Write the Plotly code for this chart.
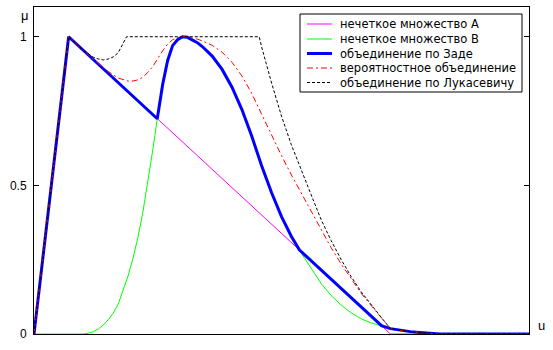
import plotly.graph_objects as go

# ---- data ----
u_a = [0, 7, 72, 100]
mu_a = [0, 1, 0, 0]

u_b = [0, 10, 11, 12, 13, 14, 15, 16, 17, 18, 19, 20, 21, 22, 23, 24, 25, 26, 27, 28, 29, 30,
       31, 32, 33, 34, 36, 38, 40, 42, 44, 46, 48, 50, 52, 54, 56, 58, 60, 62, 64, 66, 68, 70,
       72, 74, 76, 78, 80, 82, 100]
mu_b = [0, 0, 0.003, 0.008, 0.017, 0.03, 0.048, 0.07, 0.10, 0.145, 0.195, 0.255, 0.325, 0.41,
        0.51, 0.62, 0.735, 0.84, 0.92, 0.97, 0.99, 1.0, 0.998, 0.99, 0.98, 0.967, 0.935, 0.89,
        0.83, 0.755, 0.665, 0.565, 0.475, 0.395, 0.328, 0.272, 0.222, 0.17, 0.13, 0.098, 0.072,
        0.052, 0.038, 0.028, 0.018, 0.012, 0.008, 0.005, 0.002, 0, 0]

u_zadeh = [0, 7, 24.9, 25, 26, 27, 28, 29, 30, 31, 32, 33, 34, 36, 38, 40, 42, 44, 46, 48, 50,
           52, 53.6, 70.2, 72, 74, 76, 78, 80, 82, 100]
mu_zadeh = [0, 1, 0.724, 0.735, 0.84, 0.92, 0.97, 0.99, 1.0, 0.998, 0.99, 0.98, 0.967, 0.935,
            0.89, 0.83, 0.755, 0.665, 0.565, 0.475, 0.395, 0.328, 0.283, 0.028, 0.018, 0.012,
            0.008, 0.005, 0.002, 0, 0]

u_prob = [0, 7, 10, 11, 12, 13, 14, 15, 16, 17, 18, 19, 20, 21, 22, 23, 24, 25, 26, 27, 28, 29,
          30, 31, 32, 33, 34, 36, 38, 40, 42, 44, 46, 48, 50, 52, 54, 56, 58, 60, 62, 64, 66, 68,
          70, 72, 74, 76, 78, 80, 82, 100]
mu_prob = [0, 1, 0.954, 0.938, 0.924, 0.910, 0.895, 0.883, 0.872, 0.861, 0.856, 0.851, 0.851,
           0.855, 0.864, 0.880, 0.900, 0.927, 0.953, 0.975, 0.990, 0.997, 1.0, 0.999, 0.996,
           0.992, 0.986, 0.971, 0.948, 0.914, 0.868, 0.809, 0.739, 0.669, 0.600, 0.535, 0.474,
           0.413, 0.348, 0.291, 0.237, 0.186, 0.139, 0.098, 0.058, 0.018, 0.012, 0.008, 0.005,
           0.002, 0, 0]

u_luk = [0, 7, 10, 11, 12, 13, 14, 15, 16, 17, 18, 18.7, 45.5, 46, 48, 50, 52, 54, 56, 58, 60,
         62, 64, 66, 68, 70, 72, 74, 76, 78, 80, 82, 100]
mu_luk = [0, 1, 0.954, 0.941, 0.931, 0.925, 0.922, 0.925, 0.932, 0.946, 0.976, 1.0, 1.0, 0.965,
          0.844, 0.733, 0.636, 0.549, 0.468, 0.385, 0.315, 0.252, 0.195, 0.144, 0.1, 0.059,
          0.018, 0.012, 0.008, 0.005, 0.002, 0, 0]

y_tickvals = [0, 0.5, 1]
y_ticktext = ["0", "0.5", "1"]

labels = ["нечеткое множество А", "нечеткое множество В", "объединение по Заде",
          "вероятностное объединение", "объединение по Лукасевичу"]

# ---- styles ----
FONT = "Liberation Sans, Arial, sans-serif"
LEG_FONT = "DejaVu Sans, Verdana, sans-serif"
styles = [
    dict(color="#ff00ff", width=1, dash="solid"),
    dict(color="#00ff00", width=1, dash="solid"),
    dict(color="#0000ff", width=3, dash="solid"),
    dict(color="#ff0000", width=1, dash="6px,3px,2px,3px"),
    dict(color="#000000", width=1, dash="3px,2px"),
]
series = [(u_a, mu_a), (u_b, mu_b), (u_zadeh, mu_zadeh), (u_prob, mu_prob), (u_luk, mu_luk)]

W, H = 553, 350
L, R, T, B = 34, 24, 7, 16
pw, ph = W - L - R, H - T - B


def pxx(x):
    return (x - L) / pw


def pxy(y):
    return (H - B - y) / ph


fig = go.Figure()
for (xs, ys), st, name in zip(series, styles, labels):
    fig.add_trace(go.Scatter(x=xs, y=ys, mode="lines", name=name, line=st,
                             showlegend=False, hoverinfo="skip"))

# legend box drawn by hand (to match compact MATLAB legend)
shapes = [dict(type="rect", xref="paper", yref="paper",
               x0=pxx(300), x1=pxx(522), y0=pxy(92), y1=pxy(14),
               line=dict(color="black", width=1), fillcolor="white", layer="above")]
annotations = []
row_y = [24, 39, 53.5, 68, 82.5]
for ry, st, name in zip(row_y, styles, labels):
    shapes.append(dict(type="line", xref="paper", yref="paper",
                       x0=pxx(307), x1=pxx(332), y0=pxy(ry), y1=pxy(ry),
                       line=dict(color=st["color"], width=st["width"], dash=st["dash"]),
                       layer="above"))
    annotations.append(dict(text=name, xref="paper", yref="paper", x=pxx(338), y=pxy(ry),
                            xanchor="left", yanchor="middle", showarrow=False,
                            font=dict(family=LEG_FONT, size=11.5, color="black")))

annotations.append(dict(text="μ", xref="paper", yref="paper", x=pxx(24.5), y=pxy(15),
                        xanchor="center", yanchor="middle", showarrow=False,
                        font=dict(family=FONT, size=13, color="black")))
annotations.append(dict(text="u", xref="paper", yref="paper", x=pxx(541), y=pxy(325),
                        xanchor="center", yanchor="middle", showarrow=False,
                        font=dict(family=FONT, size=13, color="black")))

fig.update_layout(
    width=W, height=H, autosize=False,
    margin=dict(l=L, r=R, t=T, b=B, pad=0),
    paper_bgcolor="white", plot_bgcolor="white",
    font=dict(family=FONT, size=12, color="black"),
    shapes=shapes, annotations=annotations,
    xaxis=dict(range=[0, 100], showgrid=False, zeroline=False, showline=True,
               linecolor="black", linewidth=1, mirror=True, ticks="",
               showticklabels=False, fixedrange=True),
    yaxis=dict(range=[0, 1.1], showgrid=False, zeroline=False, showline=True,
               linecolor="black", linewidth=1, mirror="ticks", ticks="inside",
               ticklen=5, tickcolor="black", tickvals=y_tickvals, ticktext=y_ticktext,
               tickfont=dict(family=FONT, size=12, color="black"),
               ticklabelstandoff=4, fixedrange=True),
)

fig.write_html("out.html")
